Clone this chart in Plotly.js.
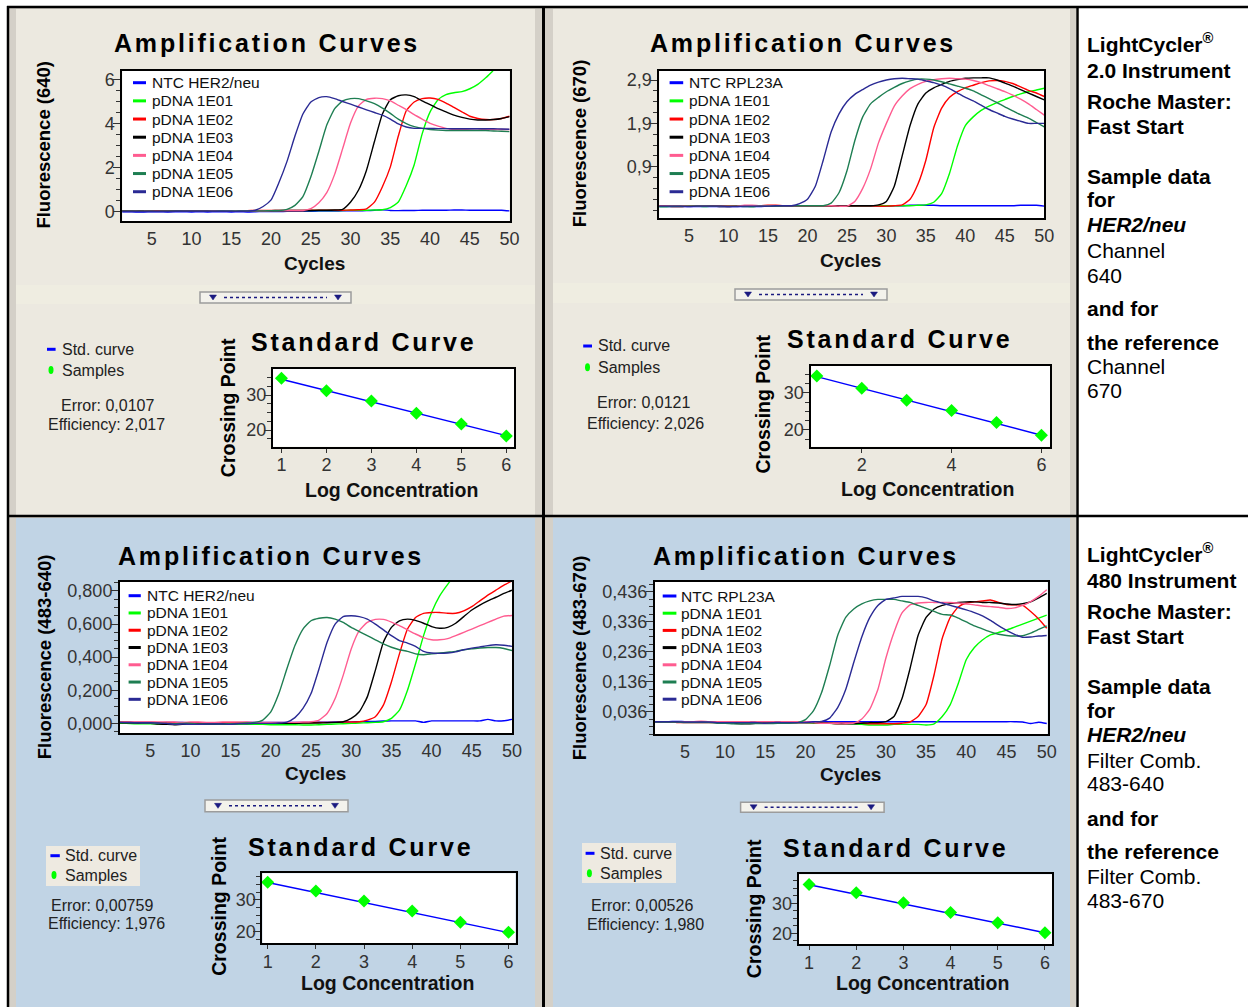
<!DOCTYPE html>
<html>
<head>
<meta charset="utf-8">
<script src="https://cdn.plot.ly/plotly-3.0.1.min.js"></script>
<style>
html,body{margin:0;padding:0;background:#fff;}
#chart{width:1248px;height:1007px;}
text.annotation-text[data-unformatted="Amplification Curves"],
text.annotation-text[data-unformatted="Standard Curve"]{letter-spacing:2.8px;}
</style>
</head>
<body>
<div id="chart"></div>
<script>
// ---------------- DATA ----------------
const cycles = [1,2,3,4,5,6,7,8,9,10,11,12,13,14,15,16,17,18,19,20,21,22,23,24,25,26,27,28,29,30,31,32,33,34,35,36,37,38,39,40,41,42,43,44,45,46,47,48,49,50];
const cycleTicks = [5,10,15,20,25,30,35,40,45,50];
const cycleTickText = ['5','10','15','20','25','30','35','40','45','50'];

const namesHER = ['NTC HER2/neu','pDNA 1E01','pDNA 1E02','pDNA 1E03','pDNA 1E04','pDNA 1E05','pDNA 1E06'];
const namesREF = ['NTC RPL23A','pDNA 1E01','pDNA 1E02','pDNA 1E03','pDNA 1E04','pDNA 1E05','pDNA 1E06'];
const seriesColors = ['#0000FF','#00FF00','#FF0000','#000000','#FF5C90','#1E7E52','#2A2A94'];

// LightCycler 2.0, channel 640 (HER2/neu)
const her640_NTC = [0.01,0.01,0.00,0.00,0.01,0.01,0.00,0.01,0.01,0.00, 0.01,0.00,0.01,0.01,0.00,0.01,0.00,0.01,0.02,0.02, 0.02,0.03,0.03,0.03,0.03,0.04,0.04,0.04,0.05,0.05, 0.05,0.06,0.08,0.10,0.07,0.06,0.07,0.07,0.08,0.08, 0.08,0.08,0.09,0.09,0.08,0.08,0.08,0.08,0.08,0.05];
const her640_E01 = [0.05,0.05,0.04,0.05,0.04,0.05,0.05,0.04,0.05,0.05, 0.05,0.05,0.05,0.05,0.06,0.05,0.06,0.06,0.06,0.06, 0.06,0.06,0.06,0.06,0.07,0.07,0.07,0.07,0.07,0.08, 0.08,0.08,0.09,0.10,0.20,0.45,1.20,2.15,3.55,4.55, 5.10,5.33,5.42,5.47,5.60,5.80,6.10,6.45,6.80,7.10];
const her640_E02 = [0.04,0.04,0.05,0.05,0.06,0.06,0.05,0.05,0.06,0.06, 0.06,0.06,0.06,0.06,0.06,0.06,0.06,0.07,0.07,0.07, 0.07,0.07,0.07,0.07,0.08,0.08,0.08,0.08,0.08,0.09, 0.10,0.14,0.45,1.15,2.05,3.45,4.60,5.00,5.15,5.18, 5.12,4.95,4.75,4.55,4.35,4.25,4.20,4.20,4.25,4.35];
const her640_E03 = [0.06,0.06,0.05,0.04,0.05,0.05,0.05,0.06,0.05,0.05, 0.05,0.05,0.05,0.05,0.05,0.06,0.06,0.06,0.06,0.06, 0.07,0.07,0.07,0.07,0.07,0.08,0.08,0.09,0.12,0.45, 1.00,1.90,3.20,4.45,5.10,5.28,5.32,5.24,5.05,4.88, 4.70,4.55,4.40,4.30,4.22,4.18,4.18,4.20,4.25,4.33];
const her640_E04 = [0.03,0.03,0.03,0.03,0.04,0.04,0.04,0.04,0.04,0.04, 0.04,0.04,0.05,0.05,0.06,0.05,0.05,0.05,0.05,0.06, 0.06,0.06,0.06,0.07,0.15,0.42,0.88,1.72,2.88,4.05, 4.82,5.12,5.17,5.15,5.05,4.85,4.65,4.42,4.22,4.03, 3.90,3.80,3.75,3.75,3.73,3.72,3.75,3.75,3.75,3.75];
const her640_E05 = [0.03,0.03,0.03,0.03,0.03,0.03,0.04,0.04,0.04,0.04, 0.04,0.04,0.04,0.05,0.05,0.05,0.05,0.05,0.05,0.06, 0.06,0.12,0.30,0.70,1.60,2.75,3.95,4.70,5.05,5.15, 5.15,5.05,4.92,4.72,4.48,4.22,4.02,3.88,3.80,3.75, 3.72,3.70,3.70,3.70,3.70,3.70,3.70,3.68,3.67,3.65];
const her640_E06 = [0.02,0.02,0.02,0.02,0.02,0.02,0.02,0.03,0.03,0.03, 0.03,0.03,0.03,0.03,0.03,0.03,0.04,0.08,0.25,0.55, 1.35,2.30,3.45,4.45,5.00,5.20,5.24,5.15,5.02,4.90, 4.77,4.64,4.52,4.40,4.22,4.00,3.86,3.80,3.80,3.80, 3.79,3.79,3.78,3.78,3.78,3.78,3.78,3.78,3.77,3.76];

// LightCycler 2.0, channel 670 (RPL23A reference)
const ref670_NTC = [-0.02,-0.02,-0.02,-0.02,-0.02,-0.02,-0.02,-0.02,-0.02,-0.02, -0.02,-0.02,-0.02,-0.02,-0.01,-0.01,-0.01,-0.01,-0.01,-0.01, -0.01,-0.01,-0.01,-0.01,-0.01,-0.01,-0.01,-0.01,-0.01,-0.01, 0.00,0.00,0.01,0.01,0.01,0.01,0.00,0.00,0.00,0.00, 0.00,0.00,0.00,0.00,0.00,0.00,0.01,0.01,0.01,-0.01];
const ref670_E01 = [-0.02,-0.02,-0.01,-0.01,-0.01,-0.01,-0.02,-0.01,-0.01,-0.01, -0.01,-0.01,-0.02,-0.01,-0.01,-0.01,0.00,0.00,0.00,0.00, 0.00,0.00,0.00,0.00,0.00,0.00,0.00,0.00,0.00,0.00, 0.00,0.00,0.00,0.01,0.02,0.08,0.28,0.75,1.38,1.85, 2.05,2.20,2.30,2.38,2.45,2.52,2.58,2.63,2.67,2.71];
const ref670_E02 = [-0.01,-0.01,-0.02,-0.02,-0.01,-0.01,-0.01,0.00,0.00,0.00, 0.00,0.00,0.00,0.00,0.01,0.01,0.00,0.00,0.00,0.00, 0.00,0.00,0.00,0.00,0.00,0.00,0.00,0.00,-0.01,-0.01, 0.00,0.02,0.15,0.50,1.05,1.80,2.25,2.50,2.63,2.72, 2.78,2.84,2.88,2.89,2.87,2.82,2.74,2.66,2.60,2.52];
const ref670_E03 = [-0.01,-0.01,-0.01,-0.01,-0.01,-0.01,-0.01,-0.01,-0.02,-0.02, -0.01,-0.01,-0.01,-0.01,-0.01,-0.01,0.00,0.00,0.00,0.00, 0.00,0.00,0.00,0.00,0.00,0.00,0.00,0.00,0.02,0.10, 0.45,1.15,1.85,2.35,2.60,2.72,2.80,2.87,2.91,2.94, 2.95,2.95,2.95,2.90,2.83,2.76,2.68,2.60,2.52,2.44];
const ref670_E04 = [-0.01,-0.01,-0.01,-0.01,-0.01,-0.01,-0.01,-0.01,-0.01,-0.01, -0.01,0.01,0.01,0.00,0.00,0.00,0.00,0.00,0.00,0.00, 0.00,0.00,0.00,-0.01,-0.01,0.10,0.40,0.85,1.45,1.90, 2.30,2.53,2.70,2.80,2.87,2.91,2.93,2.94,2.93,2.92, 2.89,2.84,2.77,2.70,2.63,2.55,2.46,2.35,2.22,2.09];
const ref670_E05 = [-0.02,-0.02,-0.02,-0.02,-0.01,-0.01,-0.01,-0.01,-0.01,-0.01, -0.01,-0.02,-0.02,-0.01,-0.01,-0.01,0.00,0.00,0.00,0.00, 0.00,0.00,0.06,0.30,0.80,1.50,2.05,2.35,2.50,2.63, 2.73,2.82,2.88,2.92,2.92,2.90,2.86,2.81,2.76,2.71, 2.65,2.56,2.47,2.38,2.28,2.19,2.10,2.02,1.92,1.82];
const ref670_E06 = [-0.01,-0.01,-0.01,-0.01,-0.02,-0.01,-0.01,-0.01,-0.01,-0.02, -0.02,-0.01,-0.01,-0.01,-0.01,0.00,0.00,0.00,0.05,0.15, 0.45,1.05,1.70,2.12,2.40,2.57,2.68,2.78,2.85,2.90, 2.93,2.94,2.93,2.92,2.88,2.84,2.78,2.70,2.60,2.50, 2.42,2.32,2.22,2.14,2.06,2.00,1.95,1.90,1.90,1.90];

// LightCycler 480, filter 483-640 (HER2/neu)
const her483_NTC = [0.005,0.005,0.005,0.006,0.005,0.004,0.005,0.005,0.005,0.004, 0.004,0.004,0.004,0.004,0.004,0.004,0.005,0.005,0.005,0.005, 0.005,0.006,0.006,0.006,0.006,0.007,0.007,0.008,0.008,0.009, 0.010,0.011,0.012,0.014,0.015,0.015,0.015,0.015,0.006,0.015, 0.015,0.015,0.015,0.015,0.015,0.015,0.024,0.015,0.016,0.024];
const her483_E01 = [0.000,0.000,-0.002,-0.002,-0.002,-0.004,-0.004,-0.004,-0.006,-0.006, -0.006,-0.006,-0.006,-0.006,-0.006,-0.006,-0.006,-0.006,-0.006,-0.008, -0.008,-0.008,-0.008,-0.010,-0.010,-0.008,-0.006,-0.004,-0.002,0.000, 0.002,0.004,0.006,0.010,0.030,0.080,0.200,0.360,0.530,0.670, 0.770,0.840,0.900,0.950,1.000,1.040,1.080,1.120,1.160,1.200];
const her483_E02 = [0.008,0.008,0.006,0.006,0.006,0.004,0.004,0.004,0.002,0.002, 0.002,0.002,0.002,0.004,0.004,0.004,0.004,0.004,0.004,0.004, 0.004,0.004,0.004,0.004,0.004,0.006,0.006,0.006,0.008,0.008, 0.010,0.020,0.040,0.110,0.250,0.420,0.570,0.640,0.665,0.670, 0.670,0.665,0.665,0.680,0.705,0.740,0.775,0.805,0.835,0.860];
const her483_E03 = [0.004,0.002,0.002,0.000,0.000,-0.004,-0.006,-0.008,-0.006,-0.006, -0.004,-0.004,-0.004,-0.002,-0.002,0.000,0.000,0.000,0.000,0.000, 0.000,0.000,0.000,0.002,0.002,0.002,0.004,0.006,0.010,0.030, 0.070,0.160,0.320,0.490,0.580,0.620,0.630,0.622,0.605,0.585, 0.575,0.580,0.605,0.645,0.685,0.715,0.740,0.762,0.785,0.805];
const her483_E04 = [0.008,0.008,0.008,0.008,0.008,0.008,0.008,0.008,0.006,0.008, 0.008,0.006,0.006,0.008,0.008,0.008,0.008,0.006,0.006,0.006, 0.006,0.006,0.006,0.008,0.010,0.020,0.060,0.150,0.290,0.450, 0.560,0.610,0.628,0.628,0.612,0.590,0.565,0.540,0.518,0.505, 0.505,0.512,0.530,0.550,0.570,0.590,0.610,0.630,0.648,0.652];
const her483_E05 = [0.006,0.004,0.004,0.002,0.002,0.000,0.000,-0.002,0.000,0.000, -0.003,-0.003,-0.003,-0.003,-0.002,-0.001,0.002,0.006,0.020,0.070, 0.180,0.330,0.470,0.570,0.620,0.635,0.640,0.630,0.610,0.580, 0.555,0.530,0.505,0.480,0.460,0.445,0.435,0.420,0.415,0.420, 0.425,0.430,0.435,0.445,0.450,0.455,0.458,0.458,0.452,0.440];
const her483_E06 = [0.006,0.006,0.004,0.004,0.004,0.002,0.000,-0.006,-0.004,-0.006, -0.006,-0.004,-0.004,-0.004,-0.006,-0.002,-0.002,0.000,0.000,0.000, 0.002,0.008,0.035,0.090,0.180,0.330,0.490,0.600,0.645,0.650, 0.645,0.630,0.600,0.565,0.530,0.500,0.485,0.465,0.435,0.425, 0.423,0.425,0.432,0.445,0.455,0.462,0.470,0.475,0.472,0.465];

// LightCycler 480, filter 483-670 (RPL23A reference)
const ref483_NTC = [0.003,0.003,0.003,0.004,0.003,0.003,0.003,0.003,0.003,0.003, 0.003,0.003,0.003,0.003,0.003,0.003,0.003,0.003,0.003,0.003, 0.003,0.003,0.003,0.003,0.003,0.003,0.003,0.003,0.003,0.003, 0.003,0.003,0.003,0.003,0.003,0.003,0.003,0.003,0.003,0.003, 0.003,0.003,0.003,0.003,0.003,0.003,0.002,-0.003,0.001,-0.003];
const ref483_E01 = [0.003,0.003,0.003,0.003,0.003,0.003,0.003,0.003,0.003,0.003, 0.003,0.000,0.000,0.000,0.000,0.000,0.000,0.000,0.000,0.000, -0.002,-0.002,-0.002,-0.004,-0.004,-0.004,-0.006,-0.008,-0.008,-0.008, -0.006,-0.006,-0.006,-0.006,-0.008,-0.004,0.020,0.060,0.130,0.210, 0.250,0.275,0.292,0.300,0.308,0.318,0.328,0.338,0.348,0.358];
const ref483_E02 = [0.003,0.003,0.003,0.000,0.000,0.000,0.000,0.000,0.000,0.000, 0.000,0.000,0.000,0.000,0.000,0.000,0.000,0.000,0.000,0.000, 0.000,-0.002,-0.002,-0.002,-0.002,-0.002,-0.002,-0.004,-0.004,-0.004, -0.004,-0.002,0.002,0.020,0.060,0.160,0.280,0.350,0.385,0.398, 0.402,0.405,0.408,0.400,0.393,0.392,0.390,0.370,0.345,0.314];
const ref483_E03 = [0.003,0.003,0.003,0.003,0.003,0.003,0.003,0.003,0.003,0.003, -0.002,-0.004,-0.004,-0.002,0.000,0.000,0.000,0.000,0.000,0.000, 0.000,0.000,-0.002,-0.004,-0.004,-0.004,-0.002,0.000,0.000,0.003, 0.020,0.080,0.180,0.290,0.350,0.378,0.390,0.396,0.400,0.402, 0.402,0.400,0.400,0.398,0.395,0.393,0.396,0.402,0.415,0.430];
const ref483_E04 = [0.003,0.003,0.003,0.003,0.003,0.003,0.005,0.003,0.003,0.003, 0.003,0.003,0.003,0.003,0.003,0.003,0.003,0.003,0.003,0.002, 0.000,-0.002,-0.002,-0.004,-0.004,-0.002,0.012,0.045,0.110,0.215, 0.300,0.365,0.392,0.398,0.400,0.400,0.400,0.400,0.398,0.395, 0.392,0.388,0.386,0.384,0.380,0.382,0.390,0.403,0.420,0.442];
const ref483_E05 = [0.002,0.002,0.002,0.002,0.000,0.000,0.000,0.000,-0.002,-0.002, -0.004,-0.004,-0.003,-0.003,-0.003,-0.003,-0.002,-0.002,0.000,0.010, 0.040,0.100,0.190,0.290,0.350,0.378,0.395,0.405,0.410,0.410, 0.410,0.405,0.400,0.390,0.380,0.370,0.360,0.358,0.348,0.335, 0.322,0.312,0.302,0.294,0.290,0.288,0.289,0.298,0.310,0.322];
const ref483_E06 = [0.003,0.003,0.003,0.003,0.002,0.002,0.002,0.002,0.000,0.000, 0.000,0.000,0.000,0.000,-0.002,0.000,0.000,0.000,0.000,0.000, 0.002,0.004,0.015,0.050,0.110,0.200,0.285,0.350,0.390,0.410, 0.415,0.420,0.420,0.420,0.415,0.405,0.398,0.390,0.383,0.375, 0.366,0.355,0.340,0.323,0.307,0.294,0.284,0.285,0.288,0.290];

// Standard curves
const stdLogConc = [1,2,3,4,5,6];
const cp_640 = [34.8,31.2,28.3,24.8,21.7,18.3];
const cp_670 = [34.5,31.2,28.0,25.2,22.0,18.6];
const cp_483_640 = [35.6,32.8,29.7,26.5,23.0,19.8];
const cp_483_670 = [36.3,33.5,30.2,26.9,23.5,20.2];
const fitLogConc = [1,6];
const fit_640 = [34.5,18.4];
const fit_670 = [34.3,18.6];
const fit_483_640 = [35.5,19.7];
const fit_483_670 = [36.2,20.2];

// Tick labels
const yt_640 = [0,2,4,6], ytt_640 = ['0','2','4','6'];
const yt_670 = [0.9,1.9,2.9], ytt_670 = ['0,9','1,9','2,9'];
const yt_483_640 = [0,0.2,0.4,0.6,0.8], ytt_483_640 = ['0,000','0,200','0,400','0,600','0,800'];
const yt_483_670 = [0.036,0.136,0.236,0.336,0.436], ytt_483_670 = ['0,036','0,136','0,236','0,336','0,436'];
const stdYT = [20,30], stdYTT = ['20','30'];
const stdXT_all = [1,2,3,4,5,6], stdXTT_all = ['1','2','3','4','5','6'];
const stdXT_even = [2,4,6], stdXTT_even = ['2','4','6'];

// Texts
const ampTitle = 'Amplification Curves';
const stdTitle = 'Standard Curve';
const yTitles = ['Fluorescence (640)','Fluorescence (670)','Fluorescence (483-640)','Fluorescence (483-670)'];
const errorText = ['Error: 0,0107','Error: 0,0121','Error: 0,00759','Error: 0,00526'];
const effText = ['Efficiency: 2,017','Efficiency: 2,026','Efficiency: 1,976','Efficiency: 1,980'];
const rightTopText = ['LightCycler<sup>®</sup>','2.0 Instrument','Roche Master:','Fast Start','Sample data','for','HER2/neu','Channel','640','and for','the reference','Channel','670'];
const rightBotText = ['LightCycler<sup>®</sup>','480 Instrument','Roche Master:','Fast Start','Sample data','for','HER2/neu','Filter Comb.','483-640','and for','the reference','Filter Comb.','483-670'];
const rightStyle = ['b','b','b','b','b','b','bi','n','n','b','b','n','n'];

// ---------------- LAYOUT HELPERS ----------------
const W = 1248, H = 1007;
const X = p => p / W;
const Y = p => 1 - p / H;
const FONT = 'Liberation Sans, Arial, Helvetica, sans-serif';
const TICKFONT = {family: FONT, size: 18, color: '#333333'};
const BEIGE = '#ECE9E0', BLUE = '#C1D4E5', GRAY = '#D4D0C8';

const traces = [];
const shapes = [];
const annotations = [];
const layout = {
  width: W, height: H,
  margin: {l:0, r:0, t:0, b:0, pad:0},
  paper_bgcolor: '#ffffff',
  plot_bgcolor: 'rgba(0,0,0,0)',
  showlegend: false,
  font: {family: FONT, color: '#000'},
  hovermode: false
};

function rect(x0,x1,y0,y1,fill,lineColor,lineWidth){
  shapes.push({type:'rect', xref:'paper', yref:'paper', x0:X(x0), x1:X(x1), y0:Y(y1), y1:Y(y0),
    fillcolor:fill, line:{color:lineColor||fill, width:lineColor?(lineWidth||1):0}, layer:'below'});
}
function hline(x0,x1,y,color,width,dash){
  shapes.push({type:'line', xref:'paper', yref:'paper', x0:X(x0), x1:X(x1), y0:Y(y), y1:Y(y),
    line:{color:color, width:width, dash:dash||'solid'}, layer:'below'});
}
function vline(x,y0,y1,color,width){
  shapes.push({type:'line', xref:'paper', yref:'paper', x0:X(x), x1:X(x), y0:Y(y0), y1:Y(y1),
    line:{color:color, width:width}, layer:'below'});
}
function tri(cx,cy,color){
  const p = 'M'+X(cx-3.5)+','+Y(cy-2.5)+' L'+X(cx+3.5)+','+Y(cy-2.5)+' L'+X(cx)+','+Y(cy+2.5)+' Z';
  shapes.push({type:'path', xref:'paper', yref:'paper', path:p, fillcolor:color, line:{color:color,width:0.5}, layer:'below'});
}
function dot(cx,cy,w,h,color){
  shapes.push({type:'circle', xref:'paper', yref:'paper', x0:X(cx-w/2), x1:X(cx+w/2), y0:Y(cy+h/2), y1:Y(cy-h/2),
    fillcolor:color, line:{color:color,width:0}, layer:'below'});
}
function ann(text, px, py, o){
  annotations.push(Object.assign({xref:'paper', yref:'paper', x:X(px), y:Y(py), text:text, showarrow:false,
    xanchor:'center', yanchor:'middle', borderpad:0, font:{family:FONT, size:16, color:'#000'}}, o||{}));
}
function button(x0,x1,y0,y1){
  rect(x0,x1,y0,y1,'#F3F2EC','#9C9C9C',1.5);
  const cy = (y0+y1)/2;
  tri(x0+13, cy, '#1A1A80');
  tri(x1-13, cy, '#1A1A80');
  hline(x0+24, x1-24, cy, '#1A1A80', 1.5, 'dot');
}

function axisPair(n, box, xr, yr, xt, xtt, yt, ytt, minor, stdStyle){
  const s = n===1 ? '' : String(n);
  layout['xaxis'+s] = {
    domain:[X(box[0]), X(box[1])], range:xr, anchor:'y'+s,
    showline:true, mirror:true, linecolor:'#000', linewidth:2,
    showgrid:false, zeroline:false, fixedrange:true,
    tickmode:'array', tickvals:xt, ticktext:xtt,
    ticks: stdStyle ? 'outside' : '', ticklen: stdStyle ? 4 : 0, tickcolor:'#333', tickwidth:1,
    ticklabelstandoff: stdStyle ? -3 : 0,
    tickfont: TICKFONT
  };
  layout['yaxis'+s] = {
    domain:[Y(box[3]), Y(box[2])], range:yr, anchor:'x'+s,
    showline:true, mirror:true, linecolor:'#000', linewidth:2,
    showgrid:false, zeroline:false, fixedrange:true,
    tickmode:'array', tickvals:yt, ticktext:ytt,
    ticks:'outside', ticklen:7, tickcolor:'#333', tickwidth:1,
    ticklabelstandoff: stdStyle ? -6 : -5,
    minor:{tickmode:'linear', tick0:minor[0], dtick:minor[1], ticks:'outside', ticklen:4, tickcolor:'#333', tickwidth:1, showgrid:false},
    tickfont: TICKFONT
  };
  rect(box[0], box[1], box[2], box[3], '#FFFFFF');
  return s;
}

// ---------------- PANELS ----------------
const panels = [
  { // LightCycler 2.0 - 640
    bg:[9,542,8,516], inner:[16,535,9,515], color:BEIGE, band:[16,535,285,304], button:[200,351,292,303],
    ampN:1, ampBox:[122.3,509.6,70.7,221], ampXr:[1.28,50], ampYr:[-0.41,6.42], yt:yt_640, ytt:ytt_640, minor:[0,0.5],
    series:[her640_NTC,her640_E01,her640_E02,her640_E03,her640_E04,her640_E05,her640_E06], names:namesHER,
    ampTitleXY:[267.3,43.3], yTitleXY:[43.4,144.2], cyclesXY:[314.6,263.3], yTitle:yTitles[0],
    leg:{sx0:133,sx1:146,tx:151,y0:82.7,dy:18.17},
    stdN:2, stdBox:[272.9,514.4,369,446.7], stdXr:[0.81,6.18], stdYr:[15.23,37.43], sxt:stdXT_all, sxtt:stdXTT_all,
    cp:cp_640, fit:fit_640,
    stdTitleXY:[363.6,341.7], stdYTitleXY:[227.7,407.5], stdXTitleXY:[391.6,490],
    sleg:{box:null, sx0:47, sx1:55.6, sy:349.3, tx:61, dotX:51, dotY:370},
    err:[errorText[0],107.4,405], eff:[effText[0],106.5,424]
  },
  { // LightCycler 2.0 - 670
    bg:[545,1076,8,516], inner:[553,1070,9,515], color:BEIGE, band:[553,1070,283,303], button:[735,887,289,300],
    ampN:3, ampBox:[659.3,1044.3,70.7,218.3], ampXr:[1.24,50], ampYr:[-0.29,3.115], yt:yt_670, ytt:ytt_670, minor:[0.9,0.25],
    series:[ref670_NTC,ref670_E01,ref670_E02,ref670_E03,ref670_E04,ref670_E05,ref670_E06], names:namesREF,
    ampTitleXY:[803.4,43.3], yTitleXY:[579,143.3], cyclesXY:[850.5,260], yTitle:yTitles[1],
    leg:{sx0:669.6,sx1:683.2,tx:688,y0:82.7,dy:18.17},
    stdN:4, stdBox:[810.5,1050,366,446.7], stdXr:[0.86,6.19], stdYr:[15.52,37.16], sxt:stdXT_even, sxtt:stdXTT_even,
    cp:cp_670, fit:fit_670,
    stdTitleXY:[899.6,339.3], stdYTitleXY:[763.4,404.2], stdXTitleXY:[927.6,489.3],
    sleg:{box:null, sx0:583.2, sx1:592, sy:346, tx:597, dotX:587.5, dotY:367.3},
    err:[errorText[1],643.1,402.7], eff:[effText[1],645,423.3]
  },
  { // LightCycler 480 - 483-640
    bg:[9,542,517,1007], inner:[16,535,518,1007], color:BLUE, band:null, button:[205,348,800,811.7],
    ampN:5, ampBox:[120,512,581.7,733.3], ampXr:[1.24,50], ampYr:[-0.06,0.856], yt:yt_483_640, ytt:ytt_483_640, minor:[0,0.05],
    series:[her483_NTC,her483_E01,her483_E02,her483_E03,her483_E04,her483_E05,her483_E06], names:namesHER,
    ampTitleXY:[271,555.7], yTitleXY:[44.5,656.7], cyclesXY:[315.3,773.3], yTitle:yTitles[2],
    leg:{sx0:128.6,sx1:140.8,tx:145.7,y0:595.7,dy:17.27},
    stdN:6, stdBox:[262.4,515.5,873.3,943.3], stdXr:[0.89,6.145], stdYr:[16.34,38.42], sxt:stdXT_all, sxtt:stdXTT_all,
    cp:cp_483_640, fit:fit_483_640,
    stdTitleXY:[360.3,846.7], stdYTitleXY:[219,905.8], stdXTitleXY:[387,983.3],
    sleg:{box:[46,140,846,886], sx0:50.4, sx1:59.8, sy:855.7, tx:64, dotX:54, dotY:875},
    err:[errorText[2],102.2,905], eff:[effText[2],106.2,923.3]
  },
  { // LightCycler 480 - 483-670
    bg:[545,1076,517,1007], inner:[553,1070,518,1007], color:BLUE, band:null, button:[740.6,884.1,802.3,812.3],
    ampN:7, ampBox:[654.9,1047.7,581.7,734.3], ampXr:[1.27,50.12], ampYr:[-0.039,0.469], yt:yt_483_670, ytt:ytt_483_670, minor:[0.036,0.025],
    series:[ref483_NTC,ref483_E01,ref483_E02,ref483_E03,ref483_E04,ref483_E05,ref483_E06], names:namesREF,
    ampTitleXY:[806,555.7], yTitleXY:[579,658.3], cyclesXY:[850.5,774.3], yTitle:yTitles[3],
    leg:{sx0:662.7,sx1:676.4,tx:680.2,y0:596,dy:17.2},
    stdN:8, stdBox:[798.7,1052,874.3,944.3], stdXr:[0.78,6.15], stdYr:[16.33,39.67], sxt:stdXT_all, sxtt:stdXTT_all,
    cp:cp_483_670, fit:fit_483_670,
    stdTitleXY:[895.2,848.3], stdYTitleXY:[753.9,908.3], stdXTitleXY:[922.2,983.3],
    sleg:{box:[582,676,843,883], sx0:585.6, sx1:594.5, sy:853.3, tx:598.5, dotX:589.4, dotY:873.3},
    err:[errorText[3],641.8,905], eff:[effText[3],645,924]
  }
];

// panel backgrounds first
panels.forEach(p => {
  rect(p.bg[0],p.bg[1],p.bg[2],p.bg[3],GRAY);
  rect(p.inner[0],p.inner[1],p.inner[2],p.inner[3],p.color);
  if (p.band) rect(p.band[0],p.band[1],p.band[2],p.band[3],'#EFEDE1');
  button(p.button[0],p.button[1],p.button[2],p.button[3]);
  if (p.sleg.box) rect(p.sleg.box[0],p.sleg.box[1],p.sleg.box[2],p.sleg.box[3],'#EEEAE1');
});

panels.forEach(p => {
  // amplification subplot
  const s = axisPair(p.ampN, p.ampBox, p.ampXr, p.ampYr, cycleTicks, cycleTickText, p.yt, p.ytt, p.minor, false);
  p.series.forEach((ys, i) => {
    traces.push({type:'scatter', mode:'lines', x:cycles, y:ys, name:p.names[i],
      xaxis:'x'+s, yaxis:'y'+s, line:{color:seriesColors[i], width:1.4, shape:'spline', smoothing:0.5},
      hoverinfo:'skip', showlegend:false});
  });
  // in-plot legend
  p.names.forEach((nm, i) => {
    const y = p.leg.y0 + i * p.leg.dy;
    hline(p.leg.sx0, p.leg.sx1, y, seriesColors[i], 3);
    ann(nm, p.leg.tx, y, {xanchor:'left', font:{family:FONT, size:15.5, color:'#111'}});
  });
  ann(ampTitle, p.ampTitleXY[0], p.ampTitleXY[1], {font:{family:FONT, size:25, color:'#000', weight:'bold'}});
  ann(p.yTitle, p.yTitleXY[0], p.yTitleXY[1], {textangle:-90, font:{family:FONT, size:18.5, color:'#000', weight:'bold'}});
  ann('Cycles', p.cyclesXY[0], p.cyclesXY[1], {font:{family:FONT, size:19, color:'#111', weight:'bold'}});

  // standard curve subplot
  const t = axisPair(p.stdN, p.stdBox, p.stdXr, p.stdYr, p.sxt, p.sxtt, stdYT, stdYTT, [0,2.5], true);
  traces.push({type:'scatter', mode:'lines', x:fitLogConc, y:p.fit, name:'Std. curve',
    xaxis:'x'+t, yaxis:'y'+t, line:{color:'#0000FF', width:1.4}, hoverinfo:'skip', showlegend:false});
  traces.push({type:'scatter', mode:'markers', x:stdLogConc, y:p.cp, name:'Samples',
    xaxis:'x'+t, yaxis:'y'+t, marker:{symbol:'diamond', size:10, color:'#00FF00', line:{width:0}},
    hoverinfo:'skip', showlegend:false, cliponaxis:false});
  ann(stdTitle, p.stdTitleXY[0], p.stdTitleXY[1], {font:{family:FONT, size:25, color:'#000', weight:'bold'}});
  ann('Crossing Point', p.stdYTitleXY[0], p.stdYTitleXY[1], {textangle:-90, font:{family:FONT, size:19.5, color:'#000', weight:'bold'}});
  ann('Log Concentration', p.stdXTitleXY[0], p.stdXTitleXY[1], {font:{family:FONT, size:19.5, color:'#111', weight:'bold'}});

  // side legend + stats
  hline(p.sleg.sx0, p.sleg.sx1, p.sleg.sy, '#0000FF', 3);
  dot(p.sleg.dotX, p.sleg.dotY, 5, 8, '#00FF00');
  ann('Std. curve', p.sleg.tx, p.sleg.sy, {xanchor:'left', font:{family:FONT, size:16, color:'#222'}});
  ann('Samples', p.sleg.tx, p.sleg.dotY, {xanchor:'left', font:{family:FONT, size:16, color:'#222'}});
  ann(p.err[0], p.err[1], p.err[2], {font:{family:FONT, size:16, color:'#222'}});
  ann(p.eff[0], p.eff[1], p.eff[2], {font:{family:FONT, size:16, color:'#222'}});
});

// frame lines
hline(7, 1248, 7, '#000', 2.5);
hline(7, 1248, 516, '#000', 2.5);
vline(8, 6, 1007, '#000', 2.5);
vline(543.5, 6, 1007, '#000', 3);
vline(1077.5, 6, 1007, '#000', 2.5);

// right column text
const rightTopY = [43.3,70,101.7,126.7,176.7,199.3,224,250.7,275,308.3,342.3,366.7,390.7];
const rightBotY = [553.3,580,611.7,636.7,686.7,710,734.3,760,783.3,818.3,851.7,876.7,900];
function rightFont(st){
  const f = {family:FONT, size:21, color:'#000'};
  if (st === 'b' || st === 'bi') f.weight = 'bold';
  if (st === 'bi') f.style = 'italic';
  return f;
}
rightTopText.forEach((tx,i) => ann(tx, 1085.5, rightTopY[i], {xanchor:'left', font:rightFont(rightStyle[i])}));
rightBotText.forEach((tx,i) => ann(tx, 1085.5, rightBotY[i], {xanchor:'left', font:rightFont(rightStyle[i])}));

layout.shapes = shapes;
layout.annotations = annotations;

Plotly.newPlot('chart', traces, layout, {staticPlot:true, displayModeBar:false});
</script>
</body>
</html>
